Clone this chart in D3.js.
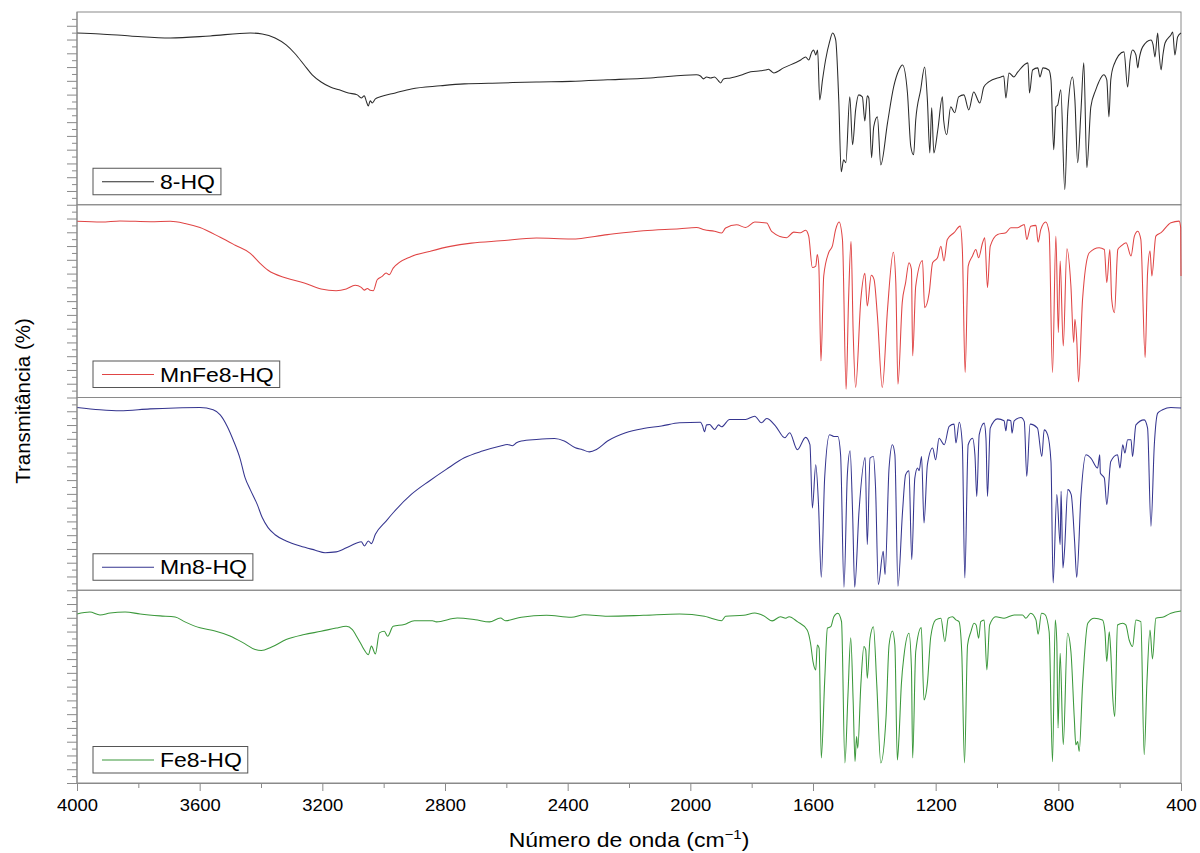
<!DOCTYPE html>
<html>
<head>
<meta charset="utf-8">
<script src="https://cdn.jsdelivr.net/npm/d3@7"></script>
<style>
  body { margin: 0; background: #fff; }
  svg { display: block; }
  text { font-family: "Liberation Sans", Arial, sans-serif; fill: #000; }
</style>
</head>
<body>
<svg id="chart" width="1200" height="853"></svg>
<script>
// Wavenumber axis (cm-1)
const waveTicks = [4000, 3600, 3200, 2800, 2400, 2000, 1600, 1200, 800, 400];
const waveMinor = [3800, 3400, 3000, 2600, 2200, 1800, 1400, 1000, 600];

const seriesNames  = ["8-HQ", "MnFe8-HQ", "Mn8-HQ", "Fe8-HQ"];
const seriesColors = ["#2b2b2b", "#e04545", "#35358f", "#3b983b"];

// FTIR spectra: [wavenumber, relative transmittance %]
const hq8 = [[4000,89.1],[3925,88.6],[3827,87.6],[3696,86.5],[3566,87.6],[3435,89.1],[3396,88.6],[3354,86.5],[3318,82.9],[3288,78.2],[3259,72.5],[3233,67.4],[3204,63.7],[3174,61.1],[3145,59.6],[3115,58.0],[3086,57.0],[3073,55.4],[3063,56.5],[3057,53.9],[3050,51.3],[3044,53.9],[3037,52.8],[3027,54.9],[3011,56.0],[2962,58.0],[2910,60.1],[2815,61.7],[2737,62.7],[2619,63.2],[2502,63.7],[2391,64.0],[2270,64.8],[2130,65.8],[1980,67.4],[1967,66.8],[1957,65.3],[1947,66.3],[1934,65.8],[1921,66.3],[1908,64.2],[1901,63.2],[1892,65.3],[1869,65.8],[1836,67.2],[1803,69.0],[1771,69.5],[1755,69.9],[1745,70.3],[1738,69.5],[1728,68.4],[1696,71.0],[1640,75.1],[1624,76.7],[1614,75.1],[1604,79.3],[1598,80.3],[1591,77.7],[1585,80.3],[1578,54.4],[1569,64.8],[1559,75.1],[1546,84.5],[1536,89.1],[1526,85.5],[1516,54.4],[1508,17.1],[1500,23.3],[1493,21.8],[1480,56.0],[1471,31.1],[1461,49.2],[1451,57.0],[1439,56.0],[1431,43.5],[1423,56.5],[1418,55.4],[1409,24.4],[1402,40.4],[1390,45.6],[1379,20.7],[1357,42.5],[1337,61.1],[1320,69.9],[1308,72.5],[1292,58.0],[1281,30.1],[1272,25.9],[1265,44.0],[1249,59.6],[1236,71.5],[1227,54.4],[1219,26.9],[1213,50.3],[1206,26.9],[1193,38.9],[1178,56.0],[1174,44.0],[1164,36.3],[1151,50.8],[1138,47.7],[1125,56.0],[1108,57.0],[1092,49.2],[1076,58.5],[1056,52.8],[1043,61.1],[1027,63.7],[987,66.3],[978,66.8],[971,55.4],[961,68.4],[945,66.3],[932,68.9],[899,73.6],[894,58.0],[884,69.9],[867,71.0],[860,66.3],[850,71.0],[831,69.9],[824,64.8],[815,28.5],[808,50.8],[802,51.8],[792,59.6],[779,7.8],[769,49.2],[754,66.3],[746,54.4],[737,21.8],[726,49.2],[717,73.6],[707,19.2],[694,50.8],[678,59.6],[668,63.7],[652,67.4],[642,64.8],[635,45.6],[629,64.8],[619,72.5],[586,79.3],[574,61.1],[566,75.1],[558,80.3],[547,77.7],[541,71.0],[537,75.1],[525,81.9],[498,85.5],[491,82.9],[485,76.7],[476,89.1],[472,80.3],[465,69.9],[459,77.7],[452,83.9],[433,88.1],[427,89.6],[420,77.7],[411,87.0],[400,89.1]];

const mnfe8 = [[4000,91.4],[3920,91.0],[3860,91.6],[3760,91.2],[3696,91.4],[3648,90.3],[3599,88.2],[3533,83.1],[3484,79.0],[3435,74.8],[3403,69.6],[3377,66.0],[3318,62.0],[3259,59.4],[3204,56.3],[3155,55.4],[3122,56.3],[3093,58.2],[3073,57.1],[3063,55.7],[3053,56.6],[3044,55.6],[3034,55.4],[3021,61.1],[3005,62.8],[2992,64.6],[2982,63.7],[2969,67.1],[2910,73.2],[2851,75.8],[2783,78.4],[2714,80.1],[2619,81.3],[2502,82.7],[2388,82.2],[2270,84.5],[2153,86.5],[2035,87.6],[1980,88.2],[1954,87.0],[1921,86.2],[1898,85.3],[1885,87.9],[1849,89.6],[1820,88.2],[1790,91.0],[1751,90.5],[1735,86.2],[1686,82.9],[1663,85.8],[1640,85.5],[1624,86.8],[1614,83.7],[1602,67.4],[1591,68.2],[1586,74.2],[1581,68.2],[1574,19.0],[1565,63.0],[1549,75.1],[1537,78.5],[1526,87.2],[1515,91.0],[1504,82.0],[1492,4.3],[1484,50.9],[1476,81.1],[1469,33.8],[1461,5.2],[1444,50.9],[1431,64.4],[1423,47.5],[1410,63.4],[1401,61.3],[1390,42.3],[1374,5.2],[1357,45.7],[1338,75.4],[1330,59.6],[1323,6.9],[1309,49.2],[1298,59.6],[1287,69.9],[1279,66.5],[1275,21.6],[1265,57.8],[1243,71.1],[1236,46.6],[1221,54.4],[1210,69.9],[1194,72.5],[1183,78.5],[1173,70.8],[1162,82.0],[1140,85.5],[1120,88.9],[1113,76.8],[1104,13.0],[1094,68.2],[1080,73.4],[1069,76.8],[1060,72.5],[1047,80.3],[1040,82.9],[1031,57.0],[1022,78.5],[998,84.6],[971,85.5],[955,88.1],[933,88.1],[911,89.8],[903,82.0],[890,88.9],[873,89.3],[866,80.6],[857,87.2],[841,91.0],[830,85.5],[819,13.0],[808,83.7],[800,33.7],[794,70.8],[784,26.7],[772,77.2],[759,57.8],[750,28.5],[746,40.6],[740,30.2],[734,8.1],[721,50.9],[699,75.1],[667,77.7],[650,76.8],[642,59.6],[632,76.8],[626,50.9],[617,44.0],[606,76.8],[596,78.5],[579,80.3],[563,73.4],[552,83.7],[541,86.3],[531,82.0],[517,20.7],[509,64.8],[501,76.0],[495,63.0],[482,83.7],[465,85.5],[433,90.7],[406,91.5],[401,88.0],[400,63.0]];

const mn8 = [[4000,94.8],[3925,93.6],[3860,93.1],[3762,94.1],[3680,94.6],[3599,94.8],[3556,93.6],[3533,91.0],[3510,85.0],[3491,78.1],[3468,68.2],[3452,58.4],[3435,52.2],[3412,44.4],[3396,37.7],[3377,32.5],[3354,28.8],[3318,25.6],[3272,22.9],[3223,20.8],[3191,19.5],[3155,19.9],[3109,23.0],[3073,25.2],[3063,23.0],[3050,25.6],[3040,24.2],[3027,29.0],[2992,35.9],[2969,40.2],[2910,49.7],[2851,56.7],[2796,62.7],[2737,68.7],[2678,72.2],[2619,74.8],[2597,75.6],[2580,75.0],[2567,76.5],[2551,77.4],[2502,78.2],[2443,78.7],[2411,77.4],[2375,73.9],[2352,72.9],[2329,71.8],[2306,73.0],[2270,77.4],[2211,81.7],[2153,83.9],[2094,85.2],[2035,86.9],[1967,87.2],[1960,85.3],[1954,82.2],[1947,85.8],[1937,86.0],[1927,84.3],[1921,83.4],[1908,85.8],[1898,84.8],[1872,88.6],[1820,88.6],[1790,90.3],[1768,86.9],[1751,89.1],[1722,85.2],[1692,79.1],[1676,81.7],[1651,72.9],[1624,79.3],[1610,75.5],[1602,42.7],[1591,65.1],[1582,44.4],[1573,6.7],[1562,58.2],[1546,80.7],[1532,79.8],[1519,79.8],[1510,70.3],[1499,1.6],[1488,59.9],[1479,72.4],[1471,40.9],[1464,1.6],[1450,40.9],[1430,68.9],[1423,23.7],[1414,68.6],[1403,69.4],[1396,53.0],[1387,3.0],[1371,20.2],[1365,8.1],[1352,63.4],[1341,75.5],[1333,70.3],[1323,2.1],[1308,40.9],[1298,59.9],[1287,62.0],[1278,15.9],[1268,58.2],[1259,63.4],[1254,62.0],[1246,69.4],[1238,34.9],[1227,65.1],[1210,73.8],[1200,67.7],[1189,78.9],[1172,75.5],[1156,85.0],[1140,86.2],[1134,76.4],[1123,87.2],[1113,75.5],[1105,6.4],[1094,75.5],[1080,78.9],[1072,70.3],[1066,48.7],[1058,80.7],[1042,86.7],[1036,78.9],[1031,48.7],[1022,84.1],[998,88.9],[977,87.9],[971,82.7],[966,88.4],[955,87.9],[951,81.5],[944,87.9],[922,89.6],[911,87.5],[903,59.1],[892,86.2],[868,84.1],[854,69.4],[846,83.2],[835,80.7],[824,66.8],[817,3.8],[805,49.6],[794,23.7],[791,51.3],[785,11.6],[780,20.2],[769,52.2],[758,49.6],[747,25.4],[740,6.7],[726,49.6],[710,70.3],[694,68.6],[672,63.4],[665,70.3],[663,60.8],[650,58.2],[642,44.4],[629,66.8],[607,70.3],[599,63.4],[590,75.5],[583,71.2],[574,78.1],[563,78.1],[558,69.4],[547,85.8],[520,88.4],[509,84.1],[498,33.2],[487,75.5],[476,91.9],[460,93.6],[433,94.8],[400,94.5]];

const fe8 = [[4000,87.7],[3958,88.7],[3925,87.2],[3892,88.2],[3843,88.7],[3794,87.7],[3729,86.7],[3680,86.1],[3648,83.6],[3599,80.5],[3550,78.9],[3501,76.3],[3452,72.2],[3419,69.2],[3399,68.7],[3367,70.4],[3318,74.4],[3259,77.0],[3204,78.7],[3155,80.4],[3122,81.3],[3102,79.6],[3089,76.3],[3073,71.8],[3063,69.0],[3050,66.6],[3040,71.0],[3027,67.0],[3014,77.9],[2998,78.7],[2987,76.1],[2969,81.3],[2933,82.2],[2900,84.2],[2841,84.2],[2828,83.6],[2760,85.6],[2701,84.7],[2655,83.6],[2619,85.6],[2603,84.2],[2551,86.0],[2469,87.0],[2388,86.0],[2345,87.3],[2270,86.5],[2153,87.0],[2035,87.7],[1954,86.5],[1934,85.6],[1898,84.2],[1885,86.5],[1826,87.0],[1790,88.2],[1761,86.8],[1733,84.1],[1706,86.3],[1689,85.5],[1678,86.3],[1651,83.7],[1619,79.4],[1608,72.5],[1600,63.0],[1591,58.7],[1586,71.6],[1580,69.9],[1573,13.0],[1562,52.6],[1553,80.3],[1542,81.1],[1532,86.3],[1519,88.1],[1507,83.7],[1496,10.4],[1486,45.7],[1477,75.4],[1469,42.3],[1463,11.2],[1458,24.1],[1454,18.1],[1444,50.9],[1434,70.8],[1428,69.0],[1423,54.4],[1414,75.1],[1403,81.1],[1392,50.9],[1379,10.4],[1362,33.7],[1352,71.6],[1341,78.9],[1333,71.6],[1325,11.9],[1320,22.4],[1312,50.9],[1303,66.5],[1287,77.7],[1279,59.6],[1275,13.0],[1265,68.2],[1247,80.6],[1238,43.1],[1227,51.8],[1216,75.9],[1200,84.6],[1183,85.5],[1170,73.3],[1159,85.5],[1145,86.3],[1134,84.6],[1124,83.7],[1115,68.2],[1106,10.4],[1096,71.6],[1085,78.5],[1075,82.9],[1068,82.0],[1060,75.1],[1053,83.7],[1042,84.6],[1033,58.7],[1024,82.0],[1004,86.3],[977,85.5],[944,87.2],[917,87.2],[906,85.5],[890,88.1],[873,84.6],[866,77.2],[855,88.1],[844,87.5],[830,78.5],[819,11.0],[810,84.6],[805,73.3],[801,28.5],[794,67.3],[784,19.9],[770,77.7],[759,68.2],[748,33.7],[743,19.8],[737,21.5],[732,16.4],[721,50.9],[704,82.9],[683,85.5],[656,84.6],[648,78.5],[642,63.0],[634,78.5],[629,68.2],[623,45.7],[616,34.5],[607,82.0],[590,82.9],[580,82.0],[569,74.2],[558,70.8],[547,84.6],[531,83.7],[520,14.7],[511,52.6],[501,79.4],[493,64.4],[482,85.5],[455,86.3],[433,88.1],[400,89.2]];

const spectra = [hq8, mnfe8, mn8, fe8];

// ---- layout ----
const svg = d3.select("#chart");
const margin = { left: 77, right: 1181, top: 12, bottom: 783 };
const frameColor = "#8a8a8a";
const stretch = "scale(1.15,1)";

const x = d3.scaleLinear().domain([4000, 400]).range([margin.left, margin.right]);
const panel = d3.scaleBand().domain(seriesNames).range([margin.top, margin.bottom]).padding(0);
const panelH = panel.bandwidth();
const tickCount = 28;

seriesNames.forEach((name, i) => {
  const top = panel(name), bottom = top + panelH;
  const y = d3.scaleLinear().domain([0, 100]).range([bottom, top]);
  const g = svg.append("g");

  // panel frame
  g.append("rect")
    .attr("x", margin.left).attr("y", top)
    .attr("width", margin.right - margin.left).attr("height", panelH)
    .attr("fill", "none").attr("stroke", frameColor).attr("stroke-width", 1);

  // unlabelled left ticks, alternating long/short
  const tv = d3.range(0, tickCount).map(k => k * 100 / tickCount);
  [[tv.filter((d, k) => k % 2 === 0), 10], [tv.filter((d, k) => k % 2 === 1), 5]].forEach(([vals, size]) => {
    const ax = g.append("g").attr("transform", `translate(${margin.left},0)`)
      .call(d3.axisLeft(y).tickValues(vals).tickSize(size).tickFormat(""));
    ax.select(".domain").remove();
    ax.selectAll("line").attr("stroke", frameColor);
  });

  // spectrum
  const line = d3.line()
    .x(d => x(d[0]))
    .y(d => y(d[1]))
    .curve(d3.curveMonotoneX);
  g.append("path")
    .datum(spectra[i])
    .attr("d", line)
    .attr("fill", "none")
    .attr("stroke", seriesColors[i])
    .attr("stroke-width", 1.05)
    .attr("stroke-linejoin", "round");

  // legend box
  const lg = g.append("g").attr("transform", `translate(93,${bottom - 36.5})`);
  const box = lg.append("rect").attr("x", 0).attr("y", 0).attr("height", 26.5)
    .attr("fill", "#fff").attr("stroke", "#555").attr("stroke-width", 1);
  lg.append("line").attr("x1", 9).attr("x2", 61).attr("y1", 13.5).attr("y2", 13.5)
    .attr("stroke", seriesColors[i]).attr("stroke-width", 1.1);
  const t = lg.append("text")
    .attr("transform", `translate(67,20.7) ${stretch}`)
    .attr("font-size", 20)
    .text(name);
  const tw = t.node().getComputedTextLength() * 1.15;
  box.attr("width", 67 + tw + 6);
});

// left axis line spanning all panels
svg.append("line")
  .attr("x1", margin.left).attr("x2", margin.left)
  .attr("y1", margin.top).attr("y2", margin.bottom)
  .attr("stroke", frameColor);

// bottom wavenumber axis
const xAxis = svg.append("g").attr("transform", `translate(0,${margin.bottom})`)
  .call(d3.axisBottom(x).tickValues(waveTicks).tickSize(8).tickFormat(d3.format("d")));
xAxis.select(".domain").attr("stroke", frameColor);
xAxis.selectAll("line").attr("stroke", frameColor);
xAxis.selectAll("text")
  .attr("y", 28.5).attr("dy", null)
  .attr("font-size", 16)
  .attr("font-family", '"Liberation Sans", Arial, sans-serif')
  .attr("fill", "#000")
  .attr("transform", stretch);

const xMinor = svg.append("g").attr("transform", `translate(0,${margin.bottom})`)
  .call(d3.axisBottom(x).tickValues(waveMinor).tickSize(5).tickFormat(""));
xMinor.select(".domain").remove();
xMinor.selectAll("line").attr("stroke", frameColor);

// axis titles
const xt = svg.append("text")
  .attr("transform", `translate(${(margin.left + margin.right) / 2},847) ${stretch}`)
  .attr("text-anchor", "middle")
  .attr("font-size", 20);
xt.append("tspan").text("Número de onda (cm");
xt.append("tspan").attr("font-size", 13).attr("dy", -8).text("−1");
xt.append("tspan").attr("dy", 8).text(")");

svg.append("text")
  .attr("transform", `translate(30,401) rotate(-90)`)
  .attr("text-anchor", "middle")
  .attr("font-size", 20.5)
  .text("Transmitância (%)");
</script>
</body>
</html>
